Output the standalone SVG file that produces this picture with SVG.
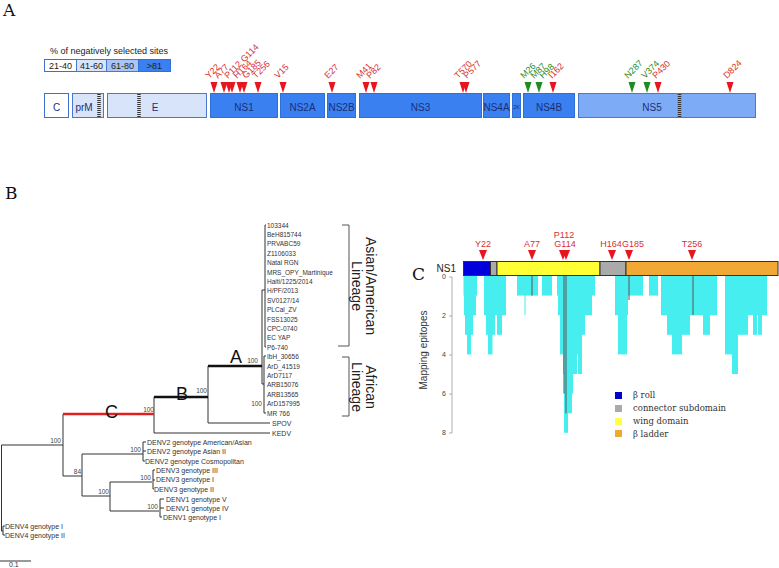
<svg xmlns="http://www.w3.org/2000/svg" width="779" height="568" viewBox="0 0 779 568">
<style>
text{font-family:"Liberation Sans",Arial,sans-serif}
.pl{font-family:"DejaVu Serif","Liberation Serif",serif;font-size:17px;fill:#111}
.leg{font-size:9px;fill:#222}
.pt{font-size:10px;fill:#1c2f78;text-anchor:middle}
.lw{fill:#fff;stroke:#3d6fd0;stroke-width:1}
.ll{fill:#d7e4fa;stroke:#4a78d0;stroke-width:1}
.lm{fill:#a9c5f5;stroke:#4a78d0;stroke-width:1}
.ld{fill:#3a80f0;stroke:#2f6fd8;stroke-width:1}
.l5{fill:#7eabf6;stroke:#4a78d0;stroke-width:1}
.hatch{stroke:#333;stroke-width:3.5;stroke-dasharray:1 1}
.rl{font-size:9px;fill:#d83030}
.gl{font-size:9px;fill:#2e8a2e}
.tr{fill:#e8141e}
.tg{fill:#1e8c1e}
.br{stroke:#333;stroke-width:1;fill:none}
.thick{stroke:#111;stroke-width:2.5;fill:none}
.red{stroke:#e02020;stroke-width:2.5;fill:none}
.lf{font-size:6.5px;fill:#333}
.dl{font-size:7px;fill:#333}
.sv{font-size:6.5px;fill:#444;text-anchor:end}
.lin{font-size:14px;fill:#222;text-anchor:middle}
.cy{fill:#46eef0}
.gm{stroke:#555;stroke-width:1}
.ax{font-size:7px;fill:#444;text-anchor:middle}
.lg{font-family:"DejaVu Serif","Liberation Serif",serif;font-size:8.5px;fill:#333}
</style>
<defs>
<path id="triA" d="M-3.5,0 L3.5,0 L0,11 Z"/>
<path id="triC" d="M-4,0 L4,0 L0,10 Z"/>
</defs>

<!-- Panel A -->
<text class="pl" x="3" y="16">A</text>
<g id="legendA">
<text class="leg" x="50" y="54">% of negatively selected sites</text>
<rect class="lw" x="44.5" y="59.5" width="32" height="12"/>
<rect class="ll" x="76.5" y="59.5" width="30" height="12"/>
<rect class="lm" x="106.5" y="59.5" width="32" height="12"/>
<rect class="ld" x="138.5" y="59.5" width="32" height="12"/>
<text class="leg" x="60.5" y="69" text-anchor="middle">21-40</text>
<text class="leg" x="91.5" y="69" text-anchor="middle">41-60</text>
<text class="leg" x="122.5" y="69" text-anchor="middle">61-80</text>
<text class="leg" x="154.5" y="69" text-anchor="middle">&gt;81</text>
</g>
<g id="p-C"><rect class="lw" x="44.5" y="93.5" width="24" height="24"/><text class="pt" x="56.5" y="111">C</text></g>
<g id="p-prM"><rect class="ll" x="72.5" y="93.5" width="31" height="24"/><line class="hatch" x1="99" y1="94" x2="99" y2="117"/><text class="pt" x="84" y="111">prM</text></g>
<g id="p-E"><rect class="ll" x="107.5" y="93.5" width="99" height="24"/><line class="hatch" x1="139" y1="94" x2="139" y2="117"/><text class="pt" x="155" y="111">E</text></g>
<g id="p-NS1"><rect class="ld" x="210.5" y="93.5" width="67" height="24"/><text class="pt" x="244" y="111">NS1</text></g>
<g id="p-NS2A"><rect class="ld" x="280.5" y="93.5" width="44" height="24"/><text class="pt" x="302.5" y="111">NS2A</text></g>
<g id="p-NS2B"><rect class="ld" x="327.5" y="93.5" width="28" height="24"/><text class="pt" x="341.5" y="111">NS2B</text></g>
<g id="p-NS3"><rect class="ld" x="359.5" y="93.5" width="122" height="24"/><text class="pt" x="420.5" y="111">NS3</text></g>
<g id="p-NS4A"><rect class="ld" x="483.5" y="93.5" width="26" height="24"/><text class="pt" x="496.5" y="111">NS4A</text></g>
<g id="p-2K"><rect class="ld" x="512.5" y="93.5" width="8" height="24"/><text class="pt" x="516.5" y="109" style="font-size:5.5px">2K</text></g>
<g id="p-NS4B"><rect class="ld" x="523.5" y="93.5" width="51" height="24"/><text class="pt" x="549" y="111">NS4B</text></g>
<g id="p-NS5"><rect class="l5" x="578.5" y="93.5" width="177" height="24"/><line class="hatch" x1="679.5" y1="94" x2="679.5" y2="117"/><text class="pt" x="652" y="111">NS5</text></g>

<g id="sitesA">
<use href="#triA" class="tr" x="214" y="82"/>
<use href="#triA" class="tr" x="224" y="82"/>
<use href="#triA" class="tr" x="229" y="82"/>
<use href="#triA" class="tr" x="232" y="82"/>
<use href="#triA" class="tr" x="240" y="82"/>
<use href="#triA" class="tr" x="244" y="82"/>
<use href="#triA" class="tr" x="258" y="82"/>
<use href="#triA" class="tr" x="283" y="82"/>
<use href="#triA" class="tr" x="332" y="82"/>
<use href="#triA" class="tr" x="366" y="82"/>
<use href="#triA" class="tr" x="374" y="82"/>
<use href="#triA" class="tr" x="463" y="82"/>
<use href="#triA" class="tr" x="466" y="82"/>
<use href="#triA" class="tg" x="528" y="82"/>
<use href="#triA" class="tg" x="539" y="82"/>
<use href="#triA" class="tr" x="553" y="82"/>
<use href="#triA" class="tg" x="632" y="82"/>
<use href="#triA" class="tg" x="647" y="82"/>
<use href="#triA" class="tr" x="658" y="82"/>
<use href="#triA" class="tr" x="730" y="82"/>
<text class="rl" transform="translate(209,79) rotate(-45)">Y22</text>
<text class="rl" transform="translate(218,79) rotate(-45)">A77</text>
<text class="rl" transform="translate(228,79) rotate(-45)">P112 G114</text>
<text class="rl" transform="translate(237,79) rotate(-45)">H164</text>
<text class="rl" transform="translate(246,79) rotate(-45)">G185</text>
<text class="rl" transform="translate(256,79) rotate(-45)">T256</text>
<text class="rl" transform="translate(278,79) rotate(-45)">V15</text>
<text class="rl" transform="translate(328,79) rotate(-45)">E27</text>
<text class="rl" transform="translate(360,79) rotate(-45)">M41</text>
<text class="rl" transform="translate(370,79) rotate(-45)">P82</text>
<text class="rl" transform="translate(458,79) rotate(-45)">T570</text>
<text class="rl" transform="translate(467,79) rotate(-45)">P577</text>
<text class="gl" transform="translate(524,79) rotate(-45)">M26</text>
<text class="gl" transform="translate(534,79) rotate(-45)">M87</text>
<text class="gl" transform="translate(543,79) rotate(-45)">H98</text>
<text class="rl" transform="translate(552,79) rotate(-45)">I162</text>
<text class="gl" transform="translate(628,79) rotate(-45)">N287</text>
<text class="gl" transform="translate(645,79) rotate(-45)">V374</text>
<text class="rl" transform="translate(656,79) rotate(-45)">P430</text>
<text class="rl" transform="translate(727,79) rotate(-45)">D824</text>
</g>

<!-- Panel B -->
<text class="pl" x="5" y="199">B</text>
<g id="connectors">
<path class="br" d="M1.5,445 H63 M63,414 V476 M63,476 H82 M82,454 V496 M82,454 H140 M82,496 H110 M110,482 V511 M110,482 H152 M110,511 H159"/>
<path class="br" d="M1.5,445 V531 M1.5,531 H3 M3,526 V535 M3,526 H5 M3,535 H5"/>
<path class="br" d="M143,442 V461 M140,454 H143 M143,442 H146 M143,451 H146 M143,461 H145"/>
<path class="br" d="M153,470 V489 M153,470 H155 M153,480 H155 M153,489 H154"/>
<path class="br" d="M160,499 V517 M160,499 H164 M160,508 H164 M160,517 H162"/>
<path class="br" d="M154,397 V433 M154,433 H270 M208,366 V423 M208,423 H270"/>
<path class="br" d="M262,290 V384 M262,290 H265 M262,384 H264 M265,225 V347 M264,356 V413"/>
<path class="br" d="M265,225 H266 M265,347 H266 M264,356 H266 M264,413 H266"/>
<path class="red" d="M63,414 H154"/>
<path class="thick" d="M154,397 H208 M208,366 H262"/>
<path class="br" d="M0,561 H31"/>
<path d="M342,225 H349 V346 H338 M342,357 H349 V416 H342" fill="none" stroke="#555" stroke-width="1"/>
</g>
<g id="branchlabels">
<text x="105" y="418" style="font-size:18px;fill:#111">C</text>
<text x="176" y="400" style="font-size:18px;fill:#111">B</text>
<text x="230" y="363" style="font-size:18px;fill:#111">A</text>
<text class="sv" x="154" y="412">100</text>
<text class="sv" x="207" y="393">100</text>
<text class="sv" x="258" y="363">100</text>
<text class="sv" x="262" y="406">100</text>
<text class="sv" x="61" y="443">100</text>
<text class="sv" x="81" y="474">84</text>
<text class="sv" x="141" y="452">100</text>
<text class="sv" x="109" y="494">100</text>
<text class="sv" x="151" y="480">100</text>
<text class="sv" x="158" y="509">100</text>
<text class="dl" x="9" y="567" style="font-size:7px">0.1</text>
</g>
<g id="leaves-asian">
<text class="lf" x="267" y="227.5">103344</text>
<text class="lf" x="267" y="236.9">BeH815744</text>
<text class="lf" x="267" y="246.3">PRVABC59</text>
<text class="lf" x="267" y="255.7">Z1106033</text>
<text class="lf" x="267" y="265.1">Natal RGN</text>
<text class="lf" x="267" y="274.5">MRS_OPY_Martinique</text>
<text class="lf" x="267" y="283.9">Haiti/1225/2014</text>
<text class="lf" x="267" y="293.3">H/PF/2013</text>
<text class="lf" x="267" y="302.7">SV0127/14</text>
<text class="lf" x="267" y="312.1">PLCal_ZV</text>
<text class="lf" x="267" y="321.5">FSS13025</text>
<text class="lf" x="267" y="330.9">CPC-0740</text>
<text class="lf" x="267" y="340.3">EC YAP</text>
<text class="lf" x="267" y="349.7">P6-740</text>
</g>
<g id="leaves-african">
<text class="lf" x="267" y="359.1">IbH_30656</text>
<text class="lf" x="267" y="368.5">ArD_41519</text>
<text class="lf" x="267" y="377.9">ArD7117</text>
<text class="lf" x="267" y="387.3">ARB15076</text>
<text class="lf" x="267" y="396.7">ARB13565</text>
<text class="lf" x="267" y="406.1">ArD157995</text>
<text class="lf" x="267" y="415.5">MR 766</text>
</g>
<g id="leaves-other">
<text class="dl" x="272" y="426">SPOV</text>
<text class="dl" x="272" y="436">KEDV</text>
<text class="dl" x="147" y="444.5">DENV2 genotype American/Asian</text>
<text class="dl" x="147" y="453.5">DENV2 genotype Asian II</text>
<text class="dl" x="145" y="463.5">DENV2 genotype Cosmopolitan</text>
<text class="dl" x="156" y="472.5">DENV3 genotype III</text>
<text class="dl" x="156" y="482">DENV3 genotype I</text>
<text class="dl" x="154" y="491.5">DENV3 genotype II</text>
<text class="dl" x="166" y="501.5">DENV1 genotype V</text>
<text class="dl" x="166" y="510.5">DENV1 genotype IV</text>
<text class="dl" x="163" y="519.5">DENV1 genotype I</text>
<text class="dl" x="5" y="528.5">DENV4 genotype I</text>
<text class="dl" x="5" y="537.5">DENV4 genotype II</text>
</g>
<g id="lineages">
<text class="lin" transform="translate(366,286) rotate(90)">Asian/American</text>
<text class="lin" transform="translate(352,286) rotate(90)">Lineage</text>
<text class="lin" transform="translate(366,387) rotate(90)">African</text>
<text class="lin" transform="translate(352,387) rotate(90)">Lineage</text>
</g>

<!-- Panel C -->
<text class="pl" x="412" y="280">C</text>
<g id="ns1bar">
<text x="456" y="272" style="font-size:10px;fill:#222;text-anchor:end">NS1</text>
<rect x="463.5" y="261.5" width="27" height="14" fill="#0000dd" stroke="#333"/>
<rect x="490.5" y="261.5" width="6.5" height="14" fill="#aaaaaa" stroke="#333"/>
<rect x="497" y="261.5" width="103" height="14" fill="#ffff33" stroke="#333"/>
<rect x="600" y="261.5" width="26" height="14" fill="#aaaaaa" stroke="#333"/>
<rect x="626" y="261.5" width="152" height="14" fill="#f2a834" stroke="#333"/>
</g>
<g id="sitesC">
<use href="#triC" class="tr" x="483" y="250"/>
<use href="#triC" class="tr" x="532" y="250"/>
<use href="#triC" class="tr" x="563" y="250"/>
<use href="#triC" class="tr" x="566" y="250"/>
<use href="#triC" class="tr" x="612" y="250"/>
<use href="#triC" class="tr" x="629" y="250"/>
<use href="#triC" class="tr" x="692" y="250"/>
<text class="rl" x="483" y="247" text-anchor="middle">Y22</text>
<text class="rl" x="532" y="247" text-anchor="middle">A77</text>
<text class="rl" x="564" y="238" text-anchor="middle">P112</text>
<text class="rl" x="565" y="247" text-anchor="middle">G114</text>
<text class="rl" x="611" y="247" text-anchor="middle">H164</text>
<text class="rl" x="633" y="247" text-anchor="middle">G185</text>
<text class="rl" x="692" y="247" text-anchor="middle">T256</text>
</g>
<g id="epitopes">
<rect class="cy" x="463.5" y="276" width="13.5" height="19.6"/>
<rect class="cy" x="464" y="276" width="12" height="39.2"/>
<rect class="cy" x="465" y="276" width="8" height="58.8"/>
<rect class="cy" x="467" y="276" width="4" height="78.4"/>
<rect class="cy" x="484" y="276" width="22" height="39.2"/>
<rect class="cy" x="486" y="276" width="9" height="58.8"/>
<rect class="cy" x="488" y="276" width="4.5" height="78.4"/>
<rect class="cy" x="497" y="276" width="5" height="58.8"/>
<rect class="cy" x="517" y="276" width="21" height="19.6"/>
<rect class="cy" x="524.5" y="276" width="1" height="39.2"/>
<rect class="cy" x="542" y="276" width="10" height="19.6"/>
<rect class="cy" x="557" y="276" width="38" height="19.6"/>
<rect class="cy" x="558" y="276" width="34" height="39.2"/>
<rect class="cy" x="560" y="276" width="25" height="58.8"/>
<rect class="cy" x="560" y="276" width="22" height="78.4"/>
<rect class="cy" x="563" y="276" width="14" height="98"/>
<rect class="cy" x="578" y="276" width="4" height="98"/>
<rect class="cy" x="565" y="276" width="8" height="117.6"/>
<rect class="cy" x="565" y="276" width="7" height="137.2"/>
<rect class="cy" x="564" y="276" width="4" height="156.8"/>
<rect class="cy" x="615" y="276" width="28" height="19.6"/>
<rect class="cy" x="615" y="276" width="13" height="39.2"/>
<rect class="cy" x="618" y="276" width="9" height="78.4"/>
<rect class="cy" x="649" y="276" width="9" height="19.6"/>
<rect class="cy" x="661" y="276" width="32" height="39.2"/>
<rect class="cy" x="667" y="276" width="23" height="58.8"/>
<rect class="cy" x="672" y="276" width="10" height="78.4"/>
<rect class="cy" x="693" y="276" width="24" height="39.2"/>
<rect class="cy" x="703" y="276" width="7" height="58.8"/>
<rect class="cy" x="725" y="276" width="42" height="39.2"/>
<rect class="cy" x="725" y="276" width="13" height="78.4"/>
<rect class="cy" x="732" y="276" width="6" height="98"/>
<rect class="cy" x="738" y="276" width="4" height="58.8"/>
<rect class="cy" x="742" y="276" width="6" height="58.8"/>
<rect class="cy" x="753" y="276" width="4" height="58.8"/>
<rect class="cy" x="758" y="276" width="4" height="58.8"/>
<line class="gm" x1="532" y1="276" x2="532" y2="295.6"/>
<line class="gm" x1="564" y1="276" x2="564" y2="393.6"/>
<line class="gm" x1="566" y1="276" x2="566" y2="413.2"/>
<line class="gm" x1="629" y1="276" x2="629" y2="300"/>
<line class="gm" x1="693" y1="276" x2="693" y2="315.2"/>
</g>
<g id="axisC">
<path d="M452,277 V433 M449,277 H452 M449,316 H452 M449,355 H452 M449,394 H452 M449,433 H452" stroke="#999" stroke-width="0.8" fill="none"/>
<text class="ax" x="444" y="279">0</text>
<text class="ax" x="444" y="318">2</text>
<text class="ax" x="444" y="357">4</text>
<text class="ax" x="444" y="396">6</text>
<text class="ax" x="444" y="435">8</text>
<text transform="translate(427,350) rotate(-90)" style="font-size:10px;fill:#333;text-anchor:middle">Mapping epitopes</text>
</g>
<g id="legendC">
<rect x="615" y="392" width="7" height="7" fill="#0000cc"/>
<rect x="615" y="405" width="7" height="7" fill="#aaaaaa"/>
<rect x="615" y="418" width="7" height="7" fill="#ffff44"/>
<rect x="615" y="430" width="7" height="7" fill="#f0a830"/>
<text class="lg" x="633" y="398">β roll</text>
<text class="lg" x="633" y="411">connector subdomain</text>
<text class="lg" x="633" y="424">wing domain</text>
<text class="lg" x="633" y="437">β ladder</text>
</g>
</svg>
